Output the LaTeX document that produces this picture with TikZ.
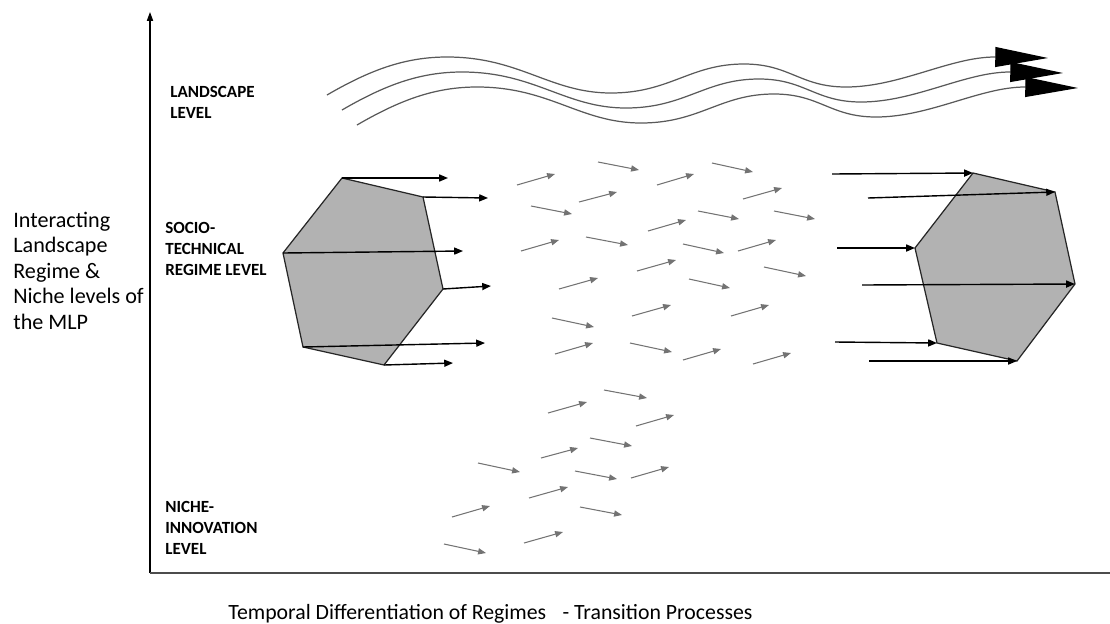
\documentclass[tikz,border=0pt]{standalone}
\usepackage{fontspec}
\setmainfont{Carlito}
\usetikzlibrary{arrows.meta}

\begin{document}
\begin{tikzpicture}
  [x=0.02cm,y=-0.02cm,
   every node/.style={inner sep=0pt,align=left,anchor=base west},
   level/.style={font=\fontsize{9.7}{11.7}\selectfont\bfseries},
   push/.style={-{Triangle[length=5pt,width=4pt]},line width=0.8pt},
   drift/.style={-{Triangle[length=4.5pt,width=3.5pt]},black!55,line width=0.6pt},
   wave/.style={-{Triangle[length=30pt,width=11.3pt,color=black]},black!65,line width=0.7pt},
   hexa/.style={fill=black!30,draw=black!85,line width=0.7pt}]
  \useasboundingbox (0,0) rectangle (1110,623);

  % axes
  \coordinate (o) at (150,573);
  \coordinate (ytop) at (150,12);
  \coordinate (xend) at (1110,573);
  \draw[-{Triangle[length=5pt,width=3.5pt]},line width=0.6pt] (o) -- (ytop);
  \draw[line width=1pt,black!70] (o) -- (xend);

  % labels (placed at the baseline of their last line)
  \node[level] (land) at (170,118) {LANDSCAPE\\LEVEL};
  \node[level] (regime) at (165,275) {SOCIO-\\TECHNICAL\\REGIME LEVEL};
  \node[level] (niche) at (165,554) {NICHE-\\INNOVATION\\LEVEL};
  \node[font=\fontsize{12.6}{14.5}\selectfont] (mlp) at (13,329)
    {Interacting\\Landscape\\Regime \&\\Niche levels of\\the MLP};
  \node[font=\fontsize{12.4}{14}\selectfont] (time) at (228,619)
    {Temporal Differentiation of Regimes\hspace{0.75em}- Transition Processes};

  % landscape pressure
  \foreach \s in {0,1,2}
    \draw[wave,shift={({15*\s},{15*\s})}]
      (327,95) .. controls (370,70) and (405,57) .. (447,57)
      .. controls (520,57) and (550,93) .. (611,93)
      .. controls (670,93) and (690,64) .. (744,64)
      .. controls (790,64) and (800,87) .. (846,87)
      .. controls (900,87) and (950,57) .. (995,57) -- (1048,58);

  % old regime
  \coordinate (l1) at (342,178);
  \coordinate (l2) at (423,197);
  \coordinate (l3) at (443,289);
  \coordinate (l4) at (384,365);
  \coordinate (l5) at (303,347);
  \coordinate (l6) at (283,253);
  \draw[hexa] (l1) -- (l2) -- (l3) -- (l4) -- (l5) -- (l6) -- cycle;
  \coordinate (la1) at (448,178);
  \coordinate (la2) at (488,198);
  \coordinate (la3) at (491,286);
  \coordinate (la4) at (453,363);
  \coordinate (la5) at (485,343);
  \coordinate (la6) at (463,251);
  \foreach \from/\to in {l1/la1,l2/la2,l3/la3,l4/la4,l5/la5,l6/la6}
    \draw[push] (\from) -- (\to);

  % new regime
  \coordinate (r1) at (973,173);
  \coordinate (r2) at (1055,192);
  \coordinate (r3) at (1075,284);
  \coordinate (r4) at (1017,361);
  \coordinate (r5) at (937,343);
  \coordinate (r6) at (915,248);
  \draw[hexa] (r1) -- (r2) -- (r3) -- (r4) -- (r5) -- (r6) -- cycle;
  \coordinate (ra1) at (832,174);
  \coordinate (ra2) at (868,198);
  \coordinate (ra3) at (862,285);
  \coordinate (ra4) at (869,361);
  \coordinate (ra5) at (835,342);
  \coordinate (ra6) at (837,248);
  \foreach \from/\to in {ra1/r1,ra2/r2,ra3/r3,ra4/r4,ra5/r5,ra6/r6}
    \draw[push] (\from) -- (\to);

  % niche and regime dynamics
  \foreach \a/\b/\c/\d in {517/185/555/174, 598/162/639/170, 657/185/694/174,
      712/163/753/172, 579/202/617/192, 531/206/572/214, 743/199/782/188,
      698/211/739/219, 774/211/815/219, 648/231/686/220, 521/251/559/240,
      586/237/628/245, 683/244/724/253, 738/251/776/240, 637/271/676/260,
      559/289/598/278, 689/279/730/288, 764/267/806/276, 632/316/671/305,
      552/318/594/327, 731/316/769/305, 555/354/593/343, 630/343/672/352,
      683/360/721/349, 753/364/791/353,
      604/390/647/398, 548/413/587/402, 636/426/674/415, 590/438/632/446,
      541/458/578/448, 478/463/520/472, 575/471/617/479, 631/478/669/467,
      529/498/568/487, 452/517/490/506, 580/507/622/515, 524/543/563/532,
      444/544/486/553}
    \draw[drift] (\a,\b) -- (\c,\d);

\end{tikzpicture}
\end{document}
